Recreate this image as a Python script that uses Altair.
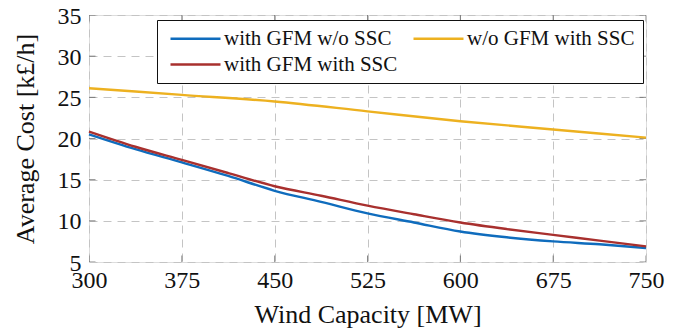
import altair as alt
import pandas as pd

# ---- data ----
x_fine = [300, 337.5, 375, 412.5, 450, 487.5, 525, 562.5, 600, 637.5, 675, 712.5, 750]
gfm_wo_ssc = [20.5, 18.7, 17.1, 15.45, 13.65, 12.3, 10.9, 9.8, 8.7, 8.0, 7.5, 7.15, 6.7]
gfm_with_ssc = [20.85, 19.0, 17.4, 15.8, 14.2, 13.05, 11.85, 10.8, 9.8, 9.0, 8.3, 7.6, 6.9]
x_coarse = [300, 375, 450, 525, 600, 675, 750]
wo_gfm_with_ssc = [26.1, 25.3, 24.5, 23.3, 22.1, 21.1, 20.1]

# legend fills column by column: col 1 = blue, red; col 2 = yellow
series_names = ["with GFM w/o SSC", "with GFM with SSC", "w/o GFM with SSC"]
series_colors = ["#0F6CBD", "#A8302E", "#EDB120"]

x_ticks = [300, 375, 450, 525, 600, 675, 750]
y_ticks = [5, 10, 15, 20, 25, 30, 35]

rows = []
for xv, yv in zip(x_fine, gfm_wo_ssc):
    rows.append({"x": xv, "y": yv, "s": "with GFM w/o SSC"})
for xv, yv in zip(x_coarse, wo_gfm_with_ssc):
    rows.append({"x": xv, "y": yv, "s": "w/o GFM with SSC"})
for xv, yv in zip(x_fine, gfm_with_ssc):
    rows.append({"x": xv, "y": yv, "s": "with GFM with SSC"})
df = pd.DataFrame(rows)

FONT = "Liberation Serif"

xscale = alt.Scale(domain=[300, 750], nice=False, zero=False)
yscale = alt.Scale(domain=[5, 35], nice=False, zero=False)

lines = alt.Chart(df).mark_line(strokeWidth=2.4, interpolate="monotone").encode(
    x=alt.X(
        "x:Q",
        scale=xscale,
        axis=alt.Axis(
            values=x_ticks,
            title="Wind Capacity [MW]",
            grid=True,
            gridDash=[8, 6],
            gridColor="#c4c4c4",
            gridWidth=1,
            ticks=False,
            domain=False,
            labelPadding=6,
            labelFont=FONT,
            labelFontSize=24,
            labelColor="#111",
            titleFont=FONT,
            titleFontSize=26,
            titleFontWeight="normal",
            titleColor="#111",
            titleX=278.5,
            titleY=60,
            titleAlign="center",
            titleBaseline="alphabetic",
            labelFlush=False,
        ),
    ),
    y=alt.Y(
        "y:Q",
        scale=yscale,
        axis=alt.Axis(
            values=y_ticks,
            title="Average Cost [k£/h]",
            grid=True,
            gridDash=[8, 6],
            gridColor="#c4c4c4",
            gridWidth=1,
            ticks=False,
            domain=False,
            labelPadding=8,
            labelOffset=1,
            labelFont=FONT,
            labelFontSize=24,
            labelColor="#111",
            titleFont=FONT,
            titleFontSize=26,
            titleFontWeight="normal",
            titleColor="#111",
            titleAngle=-90,
            titleX=-56,
            titleY=123.5,
            titleAlign="center",
            titleBaseline="alphabetic",
            labelFlush=False,
        ),
    ),
    color=alt.Color(
        "s:N",
        scale=alt.Scale(domain=series_names, range=series_colors),
        legend=alt.Legend(
            title=None,
            orient="none",
            legendX=68,
            legendY=5,
            columns=2,
            symbolType="M-5,0H5",
            symbolSize=100,
            symbolStrokeWidth=2.4,
            symbolOffset=20,
            labelFont=FONT,
            labelFontSize=21,
            labelColor="#111",
            labelLimit=0,
            labelOffset=18,
            padding=8,
            rowPadding=4,
            columnPadding=10,
            strokeColor="#111",
            fillColor="white",
            cornerRadius=0,
        ),
    ),
)

tick_color = "#555"
xt = pd.DataFrame({"x": x_ticks})
yt = pd.DataFrame({"y": y_ticks})

bottom_ticks = alt.Chart(xt).mark_tick(orient="vertical", size=13, thickness=1, color=tick_color, clip=True).encode(
    x=alt.X("x:Q", scale=xscale), y=alt.YDatum(5)
)
top_ticks = alt.Chart(xt).mark_tick(orient="vertical", size=13, thickness=1, color=tick_color, clip=True).encode(
    x=alt.X("x:Q", scale=xscale), y=alt.YDatum(35)
)
left_ticks = alt.Chart(yt).mark_tick(orient="horizontal", size=13, thickness=1, color=tick_color, clip=True).encode(
    y=alt.Y("y:Q", scale=yscale), x=alt.XDatum(300)
)
right_ticks = alt.Chart(yt).mark_tick(orient="horizontal", size=13, thickness=1, color=tick_color, clip=True).encode(
    y=alt.Y("y:Q", scale=yscale), x=alt.XDatum(750)
)

chart = alt.layer(bottom_ticks, top_ticks, left_ticks, right_ticks, lines).properties(
    width=557,
    height=247,
    autosize="none",
    padding={"left": 81, "top": 7, "right": 37, "bottom": 66},
).configure_view(stroke="#111", strokeWidth=1.2).configure(background="white")

chart.save("out.html", embed_options={"renderer": "svg", "actions": False})
